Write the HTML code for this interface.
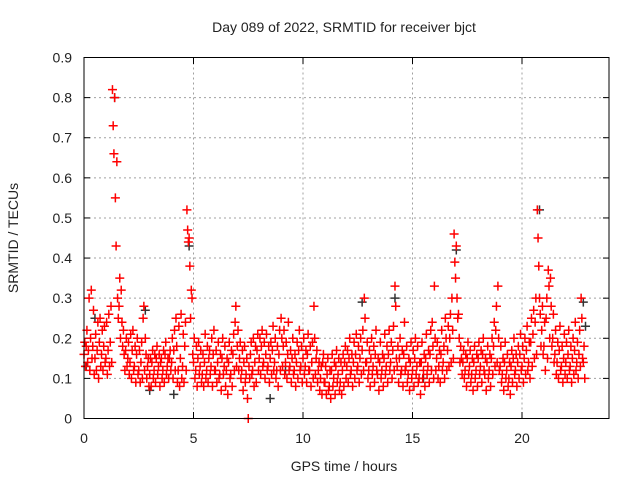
<!DOCTYPE html>
<html><head><meta charset="utf-8"><style>
body{margin:0;background:#fff}
svg text{font-family:"Liberation Sans",sans-serif;font-size:14px;fill:#222}
</style></head><body>
<svg id="chart" width="640" height="480" viewBox="0 0 640 480">
<text x="344" y="32" text-anchor="middle">Day 089 of 2022, SRMTID for receiver bjct</text>
<text transform="translate(18,238) rotate(-90)" text-anchor="middle">SRMTID / TECUs</text>
<text x="344" y="471" text-anchor="middle">GPS time / hours</text>
<g id="grid"></g><g id="ticks"></g><g id="dark"></g><g id="red"></g>
<rect x="84" y="57.5" width="525" height="361" fill="none" stroke="#000" stroke-width="1"/>
</svg>
<script>
const xTicks=[0,5,10,15,20];
const yTicks=[0,0.1,0.2,0.3,0.4,0.5,0.6,0.7,0.8,0.9];
const yTickLabels=["0","0.1","0.2","0.3","0.4","0.5","0.6","0.7","0.8","0.9"];
// values in hundredths of TECU, per hour: 10 slots x 3 values
const redHours=[
"16 19 13 18 22 14 17 30 12 20 32 15 18 27 11 15 21 12 17 24 10 19 25 13 16 22 12 18 23 14",
"15 24 11 17 26 13 19 28 14 82 73 66 80 55 43 64 30 25 28 35 20 32 24 18 22 16 12 17 20 13",
"15 19 11 14 21 10 17 22 12 13 18 9 16 20 11 12 17 9 14 19 10 25 28 12 20 16 10 13 15 8",
"11 15 8 14 17 10 12 16 9 15 18 11 13 16 8 14 15 10 12 17 9 16 19 11 13 15 10 15 17 12",
"14 20 10 17 22 12 25 18 9 12 23 8 15 26 10 13 21 9 18 24 12 52 47 44 45 38 25 32 30 16",
"14 20 10 12 18 8 15 19 11 13 17 9 11 16 8 14 21 10 12 18 9 15 17 11 13 20 8 16 22 12",
"12 17 9 14 19 10 11 16 7 15 20 11 13 18 8 12 15 6 14 19 10 11 17 8 16 21 12 24 28 13",
"18 22 12 15 19 10 12 17 7 14 18 9 11 15 5 0 13 10 16 19 11 12 20 8 14 18 9 17 21 12",
"15 20 11 18 22 13 14 19 10 16 21 12 13 18 9 15 19 11 17 23 12 14 20 10 12 18 8 16 22 12",
"25 20 13 18 22 11 14 19 10 16 24 12 13 17 9 15 20 11 12 16 8 14 19 10 17 22 12 13 18 9",
"15 20 11 13 17 9 16 21 12 12 18 8 14 19 10 28 20 11 15 17 9 12 14 7 10 13 6 14 16 9",
"9 13 6 11 15 7 8 12 5 12 16 8 10 14 6 13 17 9 11 15 7 9 14 6 12 16 8 14 18 10",
"13 17 9 15 20 11 12 16 8 14 19 10 16 21 12 13 18 9 15 20 11 17 22 12 30 25 14 14 19 10",
"12 17 8 15 20 11 13 18 9 16 22 12 11 15 7 14 19 10 12 16 8 15 21 11 13 18 9 16 22 12",
"14 19 10 17 23 12 33 28 15 13 18 9 15 20 11 12 17 8 16 24 12 13 18 9 11 15 7 14 19 10",
"12 17 8 15 20 11 13 18 9 10 14 6 14 19 10 12 16 8 15 21 11 13 17 9 16 22 12 24 18 10",
"33 20 12 15 19 10 13 17 9 16 22 12 14 18 10 25 20 12 17 23 13 20 26 14 30 22 15 46 39 35",
"43 30 25 26 20 14 18 15 11 14 17 10 12 16 8 15 19 11 13 17 9 11 15 7 14 18 10 12 16 8",
"15 19 11 13 17 9 16 20 12 11 15 7 14 18 10 12 16 8 15 20 11 18 24 13 22 28 14 33 20 12",
"13 18 9 11 15 7 14 19 10 12 16 8 10 14 6 13 17 9 15 20 11 12 16 8 14 18 10 16 21 12",
"13 18 9 15 20 11 17 23 12 14 19 10 19 25 13 21 27 15 24 30 16 52 45 38 30 26 18 22 28 16",
"18 24 12 25 30 15 37 33 20 35 28 18 20 26 14 16 22 11 14 19 10 17 23 12 13 18 9 15 21 11",
"14 19 10 16 22 12 13 18 9 15 20 11 17 24 12 14 19 10 16 22 13 30 25 15 14 18 10"
];
const darkTimes=[0.1,0.5,1.4,2.8,3.0,4.1,4.8,8.5,12.7,14.2,17.0,20.8,22.8,22.9,15.5,9.2];
const darkValues=[0.13,0.25,0.80,0.27,0.07,0.06,0.43,0.05,0.29,0.30,0.42,0.52,0.29,0.23,0.10,0.12];
const NS="http://www.w3.org/2000/svg";
const X=t=>84+t*21.9, Y=v=>418.5-v*401.1;
function mk(tag,attrs,parent){const e=document.createElementNS(NS,tag);for(const k in attrs)e.setAttribute(k,attrs[k]);parent.appendChild(e);return e;}
const grid=document.getElementById('grid'),ticks=document.getElementById('ticks');
xTicks.forEach(t=>{const x=X(t);
 if(t>0){const g=mk('line',{x1:x,x2:x,y1:57.5,y2:418.5,stroke:'#a0a0a0','stroke-dasharray':'2,3'},grid);
 
 }
 mk('line',{x1:x,x2:x,y1:418.5,y2:412,stroke:'#000'},ticks);
 mk('line',{x1:x,x2:x,y1:57.5,y2:64,stroke:'#000'},ticks);
 const l=mk('text',{x:x,y:443,'text-anchor':'middle'},ticks);l.textContent=t;
 
 
});
yTicks.forEach((v,i)=>{const y=Y(v);
 if(i>0&&i<yTicks.length-1){const g=mk('line',{x1:84,x2:609,y1:y,y2:y,stroke:'#a0a0a0','stroke-dasharray':'2,3'},grid);
 
 }
 mk('line',{x1:84,x2:90,y1:y,y2:y,stroke:'#000'},ticks);
 mk('line',{x1:609,x2:603,y1:y,y2:y,stroke:'#000'},ticks);
 const l=mk('text',{x:72,y:y+5,'text-anchor':'end'},ticks);l.textContent=yTickLabels[i];
 
 
});
function plus(x,y,col,parent){return mk('path',{d:`M${x-4.5},${y}h9M${x},${y-4.5}v9`,stroke:col,'stroke-width':1.5,fill:'none'},parent);}
const dark=document.getElementById('dark');
darkTimes.forEach((t,i)=>{const p=plus(X(t),Y(darkValues[i]),'#333',dark);
 
 });
const red=document.getElementById('red');
redHours.forEach((s,h)=>{const vals=s.trim().split(/\s+/).map(Number);
 vals.forEach((v,j)=>{const slot=Math.floor(j/3),k=j%3;
  const t=h+slot*0.1+k*0.033;
  const p=plus(X(t),Y(v/100),'#f00',red);
  
  
 });
});
</script>
</body></html>
